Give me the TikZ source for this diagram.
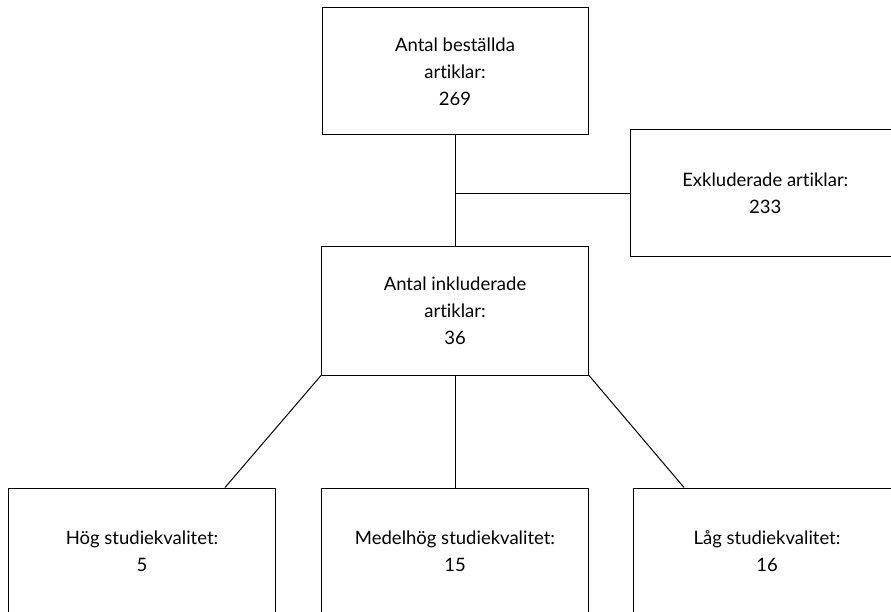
\documentclass[tikz,border=0pt]{standalone}
\usepackage{fontspec}
\setmainfont[Ligatures=NoCommon]{Lato}
\usetikzlibrary{calc}
\begin{document}
\begin{tikzpicture}[x=1pt,y=-1pt,
  box/.style={draw=black,line width=1pt,rectangle,align=center,inner sep=0pt,
    font=\fontsize{18.5}{27}\selectfont},
  link/.style={draw=black,line width=1pt}]
\useasboundingbox (0,0) rectangle (891,612);
\clip (0,0) rectangle (891,612);
\node[box,minimum width=266pt,minimum height=127pt] (top) at (455,71.5) {Antal beställda\\artiklar:\\269};
\node[box,minimum width=269pt,minimum height=127pt] (excl) at (765.3,193.5) {Exkluderade artiklar:\\233};
\node[box,minimum width=267pt,minimum height=128pt] (mid) at (455,311) {Antal inkluderade\\artiklar:\\36};
\node[box,minimum width=267.4pt,minimum height=126pt] (b1) at (142,551) {Hög studiekvalitet:\\5};
\node[box,minimum width=267pt,minimum height=126pt] (b2) at (455,551) {Medelhög studiekvalitet:\\15};
\node[box,minimum width=268pt,minimum height=126pt] (b3) at (767,551) {Låg studiekvalitet:\\16};
\coordinate (j) at (top.south |- excl.west);
\coordinate (e1) at ($(b1.north)+(83,0)$);
\coordinate (e3) at ($(b3.north)+(-83,0)$);
\draw[link] (top.south) -- (mid.north);
\draw[link] (j) -- (excl.west);
\draw[link] (mid.south west) -- (e1);
\draw[link] (mid.south) -- (b2.north);
\draw[link] (mid.south east) -- (e3);
\end{tikzpicture}
\end{document}
